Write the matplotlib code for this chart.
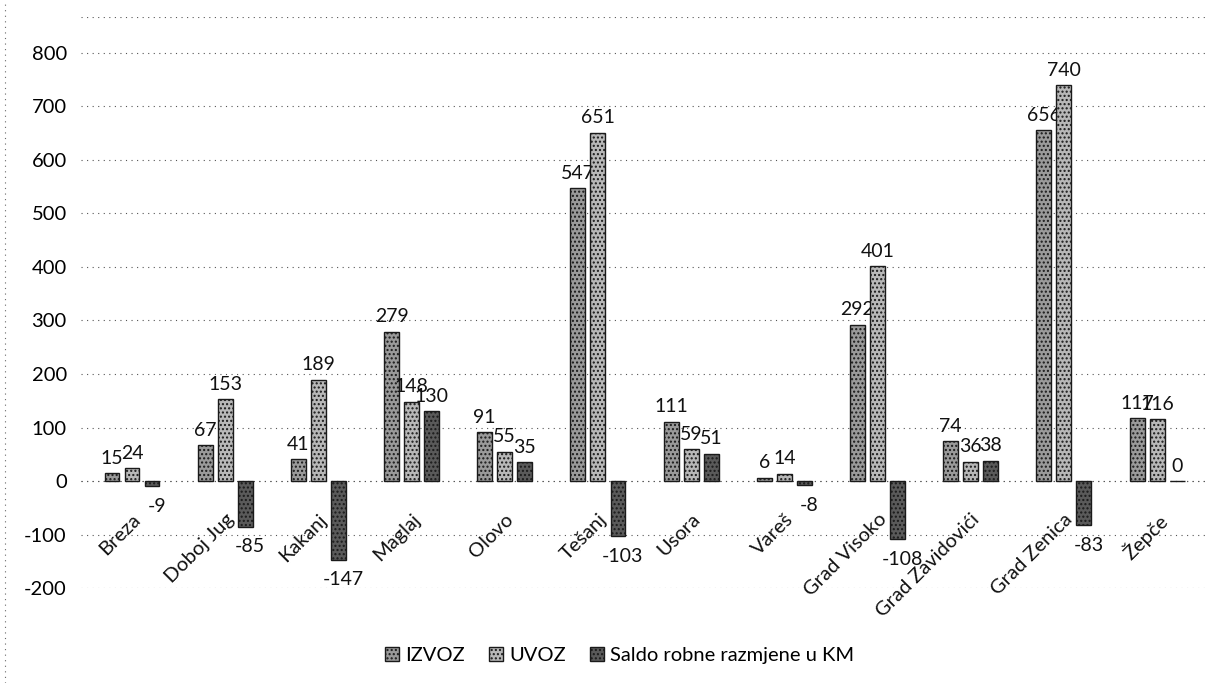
"""Izvoz, uvoz i saldo robne razmjene po opcinama (ZDK)."""

import numpy as np
import matplotlib
matplotlib.use('Agg')
import matplotlib.pyplot as plt
from matplotlib.patches import Patch
from matplotlib.lines import Line2D

plt.rcParams['font.family'] = ['Lato', 'DejaVu Sans']

# Data.
categories = ['Breza', 'Doboj Jug', 'Kakanj', 'Maglaj', 'Olovo', 'Tešanj',
              'Usora', 'Vareš', 'Grad Visoko', 'Grad Zavidovići',
              'Grad Zenica', 'Žepče']
izvoz = [15, 67, 41, 279, 91, 547, 111, 6, 292, 74, 656, 117]
uvoz = [24, 153, 189, 148, 55, 651, 59, 14, 401, 36, 740, 116]
saldo = [-9, -85, -147, 130, 35, -103, 51, -8, -108, 38, -83, 0]
series_names = ['IZVOZ', 'UVOZ', 'Saldo robne razmjene u KM']
yticks = [-200, -100, 0, 100, 200, 300, 400, 500, 600, 700, 800]


def main():
    fig = plt.figure(figsize=(12.27, 6.83), dpi=100)
    ax = fig.add_axes([0.0658, 0.139, 0.919, 0.836])

    x = np.arange(len(categories))
    width = 0.16
    step = 0.215
    faces = ['#9a9a9a', '#b8b8b8', '#5a5a5a']
    data = [izvoz, uvoz, saldo]

    for k, (vals, fc) in enumerate(zip(data, faces)):
        pos = x + (k - 1) * step
        ax.bar(pos, vals, width, color=fc, edgecolor='#1a1a1a',
               linewidth=1.0, hatch='....', zorder=3)
        for px, v in zip(pos, vals):
            if v >= 0:
                ax.text(px, v + 12, str(v), ha='center', va='bottom',
                        fontsize=14, color='#111111')
            else:
                ax.text(px + 0.05, v - 22, str(v), ha='center', va='top',
                        fontsize=14, color='#111111')

    ax.set_xlim(-0.55, len(categories) - 0.45)
    ax.set_ylim(-200, 867)
    ax.set_yticks(yticks)
    ax.set_yticklabels([str(t) for t in yticks], fontsize=14.5)
    ax.set_xticks([])
    ax.tick_params(axis='y', length=0, pad=10)
    ax.grid(axis='y', linestyle=(0, (1, 4)), color='#555555',
            linewidth=0.8, zorder=0)
    ax.axhline(867, linestyle=(0, (1, 4)), color='#555555', linewidth=0.8)
    ax.axhline(0, linestyle=(0, (1, 4)), color='#555555', linewidth=0.8)
    for side in ['top', 'right', 'bottom', 'left']:
        ax.spines[side].set_visible(False)

    # Category labels next to the zero line, rotated like the original.
    for px, name in zip(x, categories):
        ax.text(px + 0.0, -55, name, rotation=45, ha='right', va='top',
                fontsize=14.5, rotation_mode='anchor', color='#111111')

    handles = [Patch(facecolor=fc, edgecolor='#1a1a1a', hatch='....')
               for fc in faces]
    fig.legend(handles, series_names, loc='center', ncol=3,
               bbox_to_anchor=(0.505, 0.04), frameon=False, fontsize=14.5,
               handlelength=0.7, handleheight=0.7, columnspacing=1.2,
               handletextpad=0.3)

    # Dotted chart border on the left edge.
    fig.add_artist(Line2D([0.004, 0.004], [0.0, 1.0], transform=fig.transFigure,
                          linestyle=(0, (1, 4)), color='#666666', linewidth=0.8))

    fig.savefig('out.png', dpi=100)


if __name__ == '__main__':
    main()
